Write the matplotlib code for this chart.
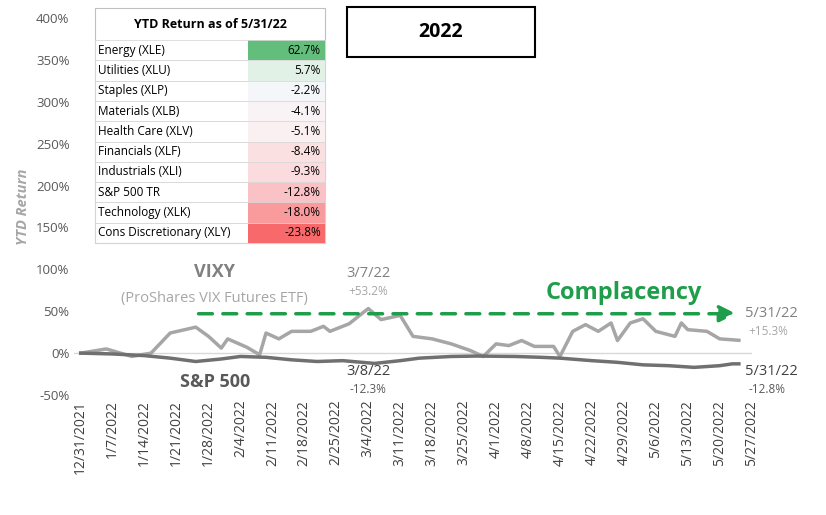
import matplotlib
matplotlib.use("Agg")
import matplotlib.pyplot as plt
from matplotlib.patches import Rectangle

vixy_idx = [0,4,8,11,14,18,20,22,23,26,28,29,31,33,36,38,39,42,45,47,50,52,55,58,61,63,65,67,69,71,74,75,77,79,81,83,84,86,88,90,93,94,95,98,100,103]
vixy_val = [0,5,-4,0,24,31,20,6,17,7,-2,24,17,26,26,32,26,35,53.2,40,45,20,17,11,3,-4,11,9,15,8,8,-4,26,34,26,36,15,36,41,26,20,36,28,26,17,15.3]
spx_idx = [0,5,10,14,18,22,25,29,33,37,41,46,50,53,58,62,68,72,75,80,84,88,92,96,100,102,103]
spx_val = [0,-1,-3,-6,-10,-7,-4,-5,-8,-10,-9,-12.3,-9,-6,-4,-3.5,-4,-5,-6,-9,-11,-14,-15,-17,-15,-12.8,-12.8]
tick_labels = ["12/31/2021","1/7/2022","1/14/2022","1/21/2022","1/28/2022","2/4/2022","2/11/2022",
               "2/18/2022","2/25/2022","3/4/2022","3/11/2022","3/18/2022","3/25/2022","4/1/2022",
               "4/8/2022","4/15/2022","4/22/2022","4/29/2022","5/6/2022","5/13/2022","5/20/2022","5/27/2022"]
sectors = ["Energy (XLE)","Utilities (XLU)","Staples (XLP)","Materials (XLB)","Health Care (XLV)",
           "Financials (XLF)","Industrials (XLI)","S&P 500 TR","Technology (XLK)","Cons Discretionary (XLY)"]
ytd = [62.7,5.7,-2.2,-4.1,-5.1,-8.4,-9.3,-12.8,-18.0,-23.8]
cell_colors = ["#63BE7B","#E2F1E6","#F4F6FA","#F9F3F6","#FAF0F2","#FBE0E2","#FBDBDD","#FAC2C4","#F99B9D","#F8696B"]

plt.rcParams['font.family'] = ['Open Sans', 'DejaVu Sans']
fig = plt.figure(figsize=(8.26, 5.15), dpi=100)
ax = fig.add_axes([0.09, 0.233, 0.82, 0.732])
ax.set_xlim(-1, 104.5)
ax.set_ylim(-50, 400)
ax.set_yticks(range(-50, 401, 50))
ax.set_yticklabels([f"{v}%" for v in range(-50, 401, 50)], color="#595959", fontsize=9.5)
ax.set_xticks([5*i for i in range(len(tick_labels))])
ax.set_xticklabels(tick_labels, rotation=90, color="#404040", fontsize=10)
ax.tick_params(length=0)
for s in ax.spines.values():
    s.set_visible(False)
ax.axhline(0, color="#d9d9d9", lw=1, zorder=1)
ax.set_ylabel("YTD Return", color="#a6a6a6", style="italic", fontsize=10.5, fontweight="bold")
ax.plot(vixy_idx, vixy_val, color="#a6a6a6", lw=2.5, zorder=3)
ax.plot(spx_idx, spx_val, color="#707070", lw=2.5, zorder=3)
ax.annotate("", xy=(103, 47), xytext=(18, 47),
            arrowprops=dict(arrowstyle="-|>,head_width=0.5,head_length=1", color="#1E9E4A", lw=2.5, ls=(0, (4, 3))))
ax.text(85, 72, "Complacency", color="#1E9E4A", fontsize=17, fontweight="bold", ha="center", va="center")
ax.text(21, 97, "VIXY", color="#808080", fontsize=13, fontweight="bold", ha="center", va="center")
ax.text(21, 65, "(ProShares VIX Futures ETF)", color="#a6a6a6", fontsize=10.5, ha="center", va="center")
ax.text(21, -35, "S&P 500", color="#595959", fontsize=13, fontweight="bold", ha="center", va="center")
ax.text(45, 95, "3/7/22", color="#808080", fontsize=10.5, ha="center", va="center")
ax.text(45, 73, "+53.2%", color="#a6a6a6", fontsize=8.5, ha="center", va="center")
ax.text(45, -22, "3/8/22", color="#404040", fontsize=10.5, ha="center", va="center")
ax.text(45, -44, "-12.3%", color="#595959", fontsize=8.5, ha="center", va="center")
ax.text(104, 47, "5/31/22", color="#808080", fontsize=10.5, ha="left", va="center", clip_on=False)
ax.text(104.5, 26, "+15.3%", color="#a6a6a6", fontsize=8.5, ha="left", va="center", clip_on=False)
ax.text(104, -22, "5/31/22", color="#404040", fontsize=10.5, ha="left", va="center", clip_on=False)
ax.text(104.5, -43, "-12.8%", color="#595959", fontsize=8.5, ha="left", va="center", clip_on=False)

W, H = 826, 515
def fx(p): return p / W
def fy(p): return 1 - p / H
x0, x1, x2 = 95, 248, 325
top, hdr = 8, 40
rh = (243 - hdr) / len(sectors)
fig.patches.append(Rectangle((fx(x0), fy(243)), fx(x2 - x0), (243 - top) / H, transform=fig.transFigure,
                             facecolor="white", edgecolor="#bfbfbf", lw=0.8))
fig.text(fx((x0 + x2) / 2), fy((top + hdr) / 2), "YTD Return as of 5/31/22", ha="center", va="center",
         fontsize=9, fontweight="bold")
for i, (n, v, c) in enumerate(zip(sectors, ytd, cell_colors)):
    yt = hdr + i * rh
    fig.patches.append(Rectangle((fx(x1), fy(yt + rh)), fx(x2 - x1), rh / H, transform=fig.transFigure,
                                 facecolor=c, edgecolor="none"))
    fig.patches.append(Rectangle((fx(x0), fy(yt + rh)), fx(x2 - x0), rh / H, transform=fig.transFigure,
                                 facecolor="none", edgecolor="#d9d9d9", lw=0.6))
    fig.text(fx(x0 + 3), fy(yt + rh / 2), n, ha="left", va="center", fontsize=8.5)
    fig.text(fx(x2 - 4), fy(yt + rh / 2), f"{v:.1f}%", ha="right", va="center", fontsize=8.5)
fig.patches.append(Rectangle((fx(347), fy(57)), fx(188), 50 / H, transform=fig.transFigure,
                             facecolor="white", edgecolor="black", lw=1.5))
fig.text(fx(441), fy(32), "2022", ha="center", va="center", fontsize=14, fontweight="bold")
fig.savefig("out.png", dpi=100)
